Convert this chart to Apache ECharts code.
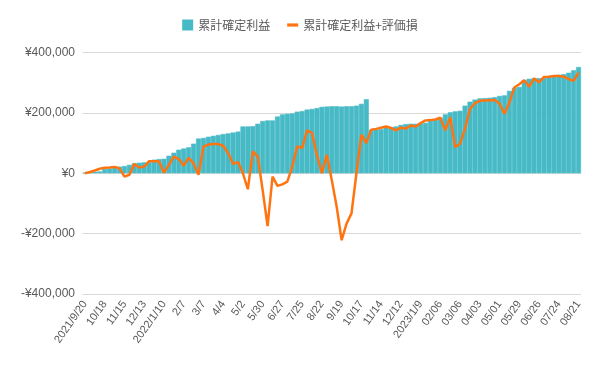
<!DOCTYPE html>
<html><head><meta charset="utf-8">
<script src="https://cdn.jsdelivr.net/npm/echarts@6/dist/echarts.min.js"></script>
<style>html,body{margin:0;padding:0;background:#fff}#c{width:600px;height:371px}</style>
</head><body><div id="c"></div>
<script>
const tickLabels = ['2021/9/20','10/18','11/15','12/13','2022/1/10','2/7','3/7','4/4','5/2','5/30','6/27','7/25','8/22','9/19','10/17','11/14','12/12','2023/1/9','02/06','03/06','04/03','05/01','05/29','06/26','07/24','08/21'];

const realized = [
  2000, 3000, 5000, 6000, 14000, 16000, 20000, 22000, 24000, 28000,
  33000, 35000, 36000, 37000, 45000, 47000, 48000, 58000, 68000, 78000,
  82000, 86000, 98000, 115000, 117000, 121000, 124000, 127000, 130000, 132000,
  135000, 138000, 155000, 155000, 156000, 164000, 173000, 175000, 175000, 188000,
  195000, 197000, 198000, 204000, 206000, 211000, 213000, 216000, 220000, 221000,
  222000, 222000, 221000, 222000, 222000, 224000, 230000, 245000, 144000, 145000,
  146000, 151000, 153000, 155000, 160000, 163000, 164000, 164000, 165000, 167000,
  175000, 177000, 184000, 195000, 202000, 205000, 207000, 224000, 237000, 244000,
  248000, 249000, 250000, 252000, 256000, 258000, 273000, 283000, 286000, 309000,
  313000, 315000, 315000, 316000, 322000, 322000, 326000, 328000, 333000, 341000,
  352000
];

const withUnrealized = [
  0, 4000, 9000, 15000, 18000, 19000, 21000, 16000, -11000, -5000,
  31000, 19000, 22000, 40000, 40000, 40000, 2000, 28000, 55000, 47000,
  25000, 51000, 33000, -5000, 88000, 95000, 97000, 97000, 91000, 67000,
  31000, 37000, 0, -53000, 72000, 56000, -56000, -175000, -11000, -42000,
  -37000, -28000, 22000, 89000, 83000, 142000, 134000, 60000, 0, 61000,
  -22000, -111000, -222000, -167000, -133000, 0, 128000, 100000, 144000, 147000,
  151000, 155000, 150000, 142000, 151000, 148000, 158000, 155000, 166000, 175000,
  176000, 178000, 184000, 142000, 186000, 87000, 98000, 148000, 213000, 232000,
  240000, 241000, 242000, 243000, 230000, 197000, 235000, 284000, 295000, 308000,
  287000, 314000, 301000, 319000, 320000, 322000, 322000, 320000, 312000, 306000,
  333000
];

const seriesNames = ['累計確定利益', '累計確定利益+評価損'];

// weekly category dates starting 2021/9/20
const categories = [];
const start = new Date(2021, 8, 20);
for (let i = 0; i < realized.length; i++) {
  const d = new Date(start.getTime());
  d.setDate(d.getDate() + 7 * i);
  categories.push(d.getFullYear() + '/' + (d.getMonth() + 1) + '/' + d.getDate());
}

function yen(v) {
  const s = '¥' + Math.abs(v).toString().replace(/\B(?=(\d{3})+(?!\d))/g, ',');
  return v < 0 ? '-' + s : s;
}

const chart = echarts.init(document.getElementById('c'), null, {renderer: 'canvas'});
chart.setOption({
  animation: false,
  backgroundColor: '#ffffff',
  legend: {
    top: 14,
    left: 'center',
    itemWidth: 11,
    itemHeight: 11,
    itemGap: 17,
    textStyle: {fontSize: 12, color: '#595959', fontFamily: 'Noto Sans CJK JP'},
    data: [
      {name: seriesNames[0], icon: 'rect', itemStyle: {borderWidth: 0}},
      {name: seriesNames[1], icon: 'path://M0 0H11V3.2H0Z'}
    ]
  },
  grid: {left: 82.5, right: 19, top: 52.5, bottom: 77, containLabel: false},
  xAxis: {
    type: 'category',
    data: categories,
    axisLine: {onZero: false, show: false},
    axisTick: {show: false},
    splitLine: {show: false},
    axisLabel: {
      interval: 3,
      rotate: 55,
      margin: 8,
      fontSize: 11,
      color: '#595959',
      fontFamily: 'Liberation Sans',
      formatter: function (v, idx) { return tickLabels[idx / 4]; }
    }
  },
  yAxis: {
    type: 'value',
    min: -400000,
    max: 400000,
    interval: 200000,
    axisLine: {show: false},
    axisTick: {show: false},
    splitLine: {lineStyle: {color: '#d9d9d9', width: 1}},
    axisLabel: {
      fontSize: 12,
      color: '#595959',
      fontFamily: 'Liberation Sans',
      margin: 7.5,
      formatter: yen
    }
  },
  series: [
    {
      name: seriesNames[0],
      type: 'bar',
      data: realized,
      barCategoryGap: '0%',
      itemStyle: {color: '#47BAC6', borderColor: '#47BAC6', borderWidth: 0.6}
    },
    {
      name: seriesNames[1],
      type: 'line',
      data: withUnrealized,
      symbol: 'none',
      lineStyle: {color: '#FF7411', width: 2.5},
      itemStyle: {color: '#FF7411'}
    }
  ]
});
</script>
</body></html>
